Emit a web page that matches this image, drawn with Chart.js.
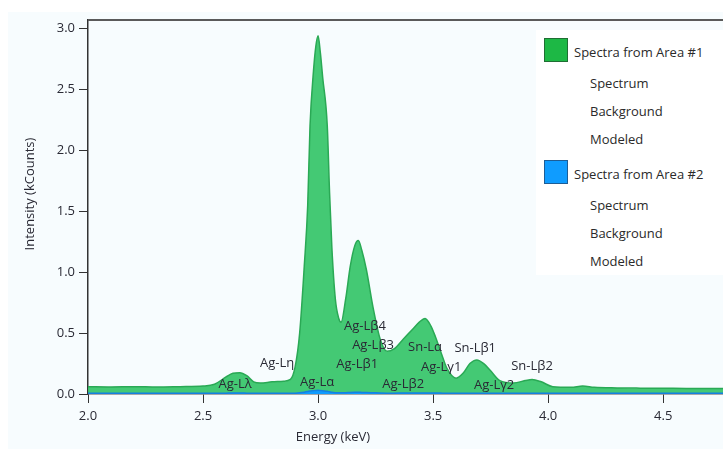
<!DOCTYPE html>
<html>
<head>
<meta charset="utf-8">
<script src="https://cdn.jsdelivr.net/npm/chart.js@4.4.1/dist/chart.umd.min.js"></script>
<style>
  html, body { margin: 0; padding: 0; background: #ffffff; }
  #wrap { position: relative; width: 723px; height: 449px; overflow: hidden; }
  #panel { position: absolute; left: 8px; top: 12px; right: 0; bottom: 0; background: #f7fcfe; }
  #chart { position: absolute; left: 0; top: 0; }
  #legend { position: absolute; left: 536px; top: 30px; width: 187px; height: 245px; background: #ffffff;
    font-family: 'Open Sans', sans-serif; font-size: 13px; color: #2a2a2a; }
  .row { position: absolute; white-space: nowrap; line-height: 16px; }
  .sw { position: absolute; width: 22px; height: 22px; border: 1px solid; }
</style>
</head>
<body>
<div id="wrap">
  <div id="panel"></div>
  <canvas id="chart" width="723" height="449"></canvas>
  <div id="legend"></div>
</div>
<script>
// --- data ---
const energyKeV = [2.00, 2.10, 2.20, 2.30, 2.40, 2.50, 2.55, 2.60, 2.63, 2.66, 2.69, 2.72, 2.75, 2.80, 2.85, 2.88,
  2.90, 2.92, 2.94, 2.955, 2.965, 2.98, 2.99, 3.00, 3.01, 3.02, 3.04, 3.05, 3.06, 3.075, 3.09, 3.10,
  3.12, 3.14, 3.16, 3.175, 3.19, 3.21, 3.24, 3.27, 3.30, 3.33, 3.37, 3.41, 3.44, 3.465, 3.49, 3.51,
  3.54, 3.56, 3.60, 3.63, 3.66, 3.69, 3.72, 3.75, 3.79, 3.85, 3.90, 3.93, 3.97, 4.02, 4.10, 4.15,
  4.20, 4.30, 4.40, 4.50, 4.60, 4.76];
const area1Counts = [0.060, 0.058, 0.060, 0.057, 0.060, 0.065, 0.080, 0.140, 0.170, 0.175, 0.150, 0.100, 0.090, 0.100, 0.105, 0.120,
  0.220, 0.500, 1.050, 1.550, 2.200, 2.650, 2.850, 2.940, 2.800, 2.600, 2.200, 1.650, 1.200, 0.780, 0.620, 0.590,
  0.780, 1.050, 1.220, 1.260, 1.180, 1.020, 0.700, 0.450, 0.350, 0.370, 0.450, 0.530, 0.590, 0.620, 0.560, 0.470,
  0.310, 0.210, 0.130, 0.170, 0.250, 0.280, 0.250, 0.190, 0.110, 0.090, 0.110, 0.120, 0.100, 0.060, 0.055, 0.065,
  0.055, 0.050, 0.048, 0.047, 0.046, 0.045];
const area2Counts = [0.006, 0.006, 0.006, 0.006, 0.006, 0.006, 0.006, 0.007, 0.008, 0.008, 0.007, 0.006, 0.006, 0.006, 0.006, 0.006,
  0.007, 0.010, 0.015, 0.020, 0.024, 0.027, 0.029, 0.030, 0.028, 0.026, 0.022, 0.018, 0.014, 0.011, 0.010, 0.010,
  0.011, 0.013, 0.014, 0.014, 0.013, 0.012, 0.010, 0.008, 0.007, 0.007, 0.008, 0.008, 0.009, 0.009, 0.008, 0.008,
  0.007, 0.006, 0.006, 0.006, 0.007, 0.007, 0.007, 0.006, 0.006, 0.006, 0.006, 0.006, 0.006, 0.006, 0.006, 0.006,
  0.006, 0.006, 0.006, 0.006, 0.006, 0.006];
const xTickValues = [2.0, 2.5, 3.0, 3.5, 4.0, 4.5];
const yTickValues = [0.0, 0.5, 1.0, 1.5, 2.0, 2.5, 3.0];
const peakNames  = ['Ag-Lλ', 'Ag-Lη', 'Ag-Lα', 'Ag-Lβ4', 'Ag-Lβ3', 'Ag-Lβ1', 'Ag-Lβ2', 'Sn-Lα', 'Ag-Lγ1', 'Sn-Lβ1', 'Ag-Lγ2', 'Sn-Lβ2'];
const peakEnergy = [2.639, 2.822, 2.996, 3.204, 3.239, 3.170, 3.370, 3.465, 3.535, 3.683, 3.765, 3.930];
const peakLevel  = [0.082, 0.256, 0.099, 0.552, 0.396, 0.247, 0.082, 0.387, 0.223, 0.379, 0.074, 0.231];
const legendGroups = ['Spectra from Area #1', 'Spectra from Area #2'];
const legendSubItems = ['Spectrum', 'Background', 'Modeled'];

const green = '#1db845';
const blue = '#0f9cff';
const textColor = '#2a2a35';
const fontFamily = "'Open Sans', sans-serif";

// legend (HTML, on the right over the plot)
const legend = document.getElementById('legend');
const swatchColors = [[green, '#1f6e33'], [blue, '#1d5d96']];
legendGroups.forEach((g, gi) => {
  const top = gi * 122;
  const sw = document.createElement('div');
  sw.className = 'sw';
  sw.style.left = '8px'; sw.style.top = (top + 8) + 'px';
  sw.style.background = swatchColors[gi][0]; sw.style.borderColor = swatchColors[gi][1];
  legend.appendChild(sw);
  const t = document.createElement('div');
  t.className = 'row'; t.textContent = g;
  t.style.left = '38px'; t.style.top = (top + 14) + 'px';
  legend.appendChild(t);
  legendSubItems.forEach((s, si) => {
    const r = document.createElement('div');
    r.className = 'row'; r.textContent = s;
    r.style.left = '54px'; r.style.top = (top + 45 + si * 28) + 'px';
    legend.appendChild(r);
  });
});

// frame, axis titles and peak labels
const decorations = {
  id: 'decorations',
  afterDatasetsDraw(chart) {
    const { ctx, scales } = chart;
    ctx.save();
    ctx.fillStyle = textColor;
    ctx.font = '13px ' + fontFamily;
    ctx.textAlign = 'center';
    ctx.textBaseline = 'middle';
    peakNames.forEach((name, i) => {
      ctx.fillText(name, scales.x.getPixelForValue(peakEnergy[i]), scales.y.getPixelForValue(peakLevel[i]));
    });
    ctx.restore();
  },
  afterDraw(chart) {
    const { ctx, chartArea } = chart;
    ctx.save();
    // top frame line
    ctx.strokeStyle = '#5a5a5a';
    ctx.lineWidth = 2;
    ctx.beginPath();
    ctx.moveTo(chartArea.left, chartArea.top);
    ctx.lineTo(chartArea.right, chartArea.top);
    ctx.stroke();
    // axis titles
    ctx.fillStyle = textColor;
    ctx.font = '13px ' + fontFamily;
    ctx.textAlign = 'center';
    ctx.textBaseline = 'middle';
    ctx.fillText('Energy (keV)', 333, 437);
    ctx.translate(30, 194);
    ctx.rotate(-Math.PI / 2);
    ctx.fillText('Intensity (kCounts)', 0, 0);
    ctx.restore();
  }
};

const ctx = document.getElementById('chart').getContext('2d');
new Chart(ctx, {
  type: 'line',
  data: {
    datasets: [
      {
        label: legendGroups[1],
        data: energyKeV.map((e, i) => ({ x: e, y: area2Counts[i] })),
        borderColor: '#1580e0',
        backgroundColor: blue,
        borderWidth: 1.5,
        fill: 'origin',
        pointRadius: 0,
        cubicInterpolationMode: 'monotone'
      },
      {
        label: legendGroups[0],
        data: energyKeV.map((e, i) => ({ x: e, y: area1Counts[i] })),
        borderColor: '#2aa955',
        backgroundColor: 'rgba(52, 196, 104, 0.92)',
        borderWidth: 1.5,
        fill: 'origin',
        pointRadius: 0,
        cubicInterpolationMode: 'monotone'
      }
    ]
  },
  options: {
    responsive: false,
    animation: false,
    layout: { padding: { top: 20, right: 0, left: 0, bottom: 0 } },
    plugins: { legend: { display: false }, tooltip: { enabled: false } },
    scales: {
      x: {
        type: 'linear',
        min: 2.0,
        max: 4.76,
        afterBuildTicks: (s) => { s.ticks = xTickValues.map(v => ({ value: v })); },
        afterFit: (s) => { s.height = 55; },
        ticks: {
          color: textColor,
          font: { family: fontFamily, size: 13 },
          padding: 5,
          maxRotation: 0,
          callback: (v) => Number(v).toFixed(1)
        },
        grid: { drawOnChartArea: false, color: '#333', tickLength: 9, lineWidth: 1 },
        border: { color: '#555', width: 1.5 }
      },
      y: {
        min: 0,
        max: 3.07,
        afterBuildTicks: (s) => { s.ticks = yTickValues.map(v => ({ value: v })); },
        afterFit: (s) => { s.width = 88; },
        ticks: {
          color: textColor,
          font: { family: fontFamily, size: 13 },
          padding: 4,
          callback: (v) => Number(v).toFixed(1)
        },
        grid: { drawOnChartArea: false, color: '#333', tickLength: 9, lineWidth: 1 },
        border: { color: '#333', width: 1.5 }
      }
    }
  },
  plugins: [decorations]
});
</script>
</body>
</html>
